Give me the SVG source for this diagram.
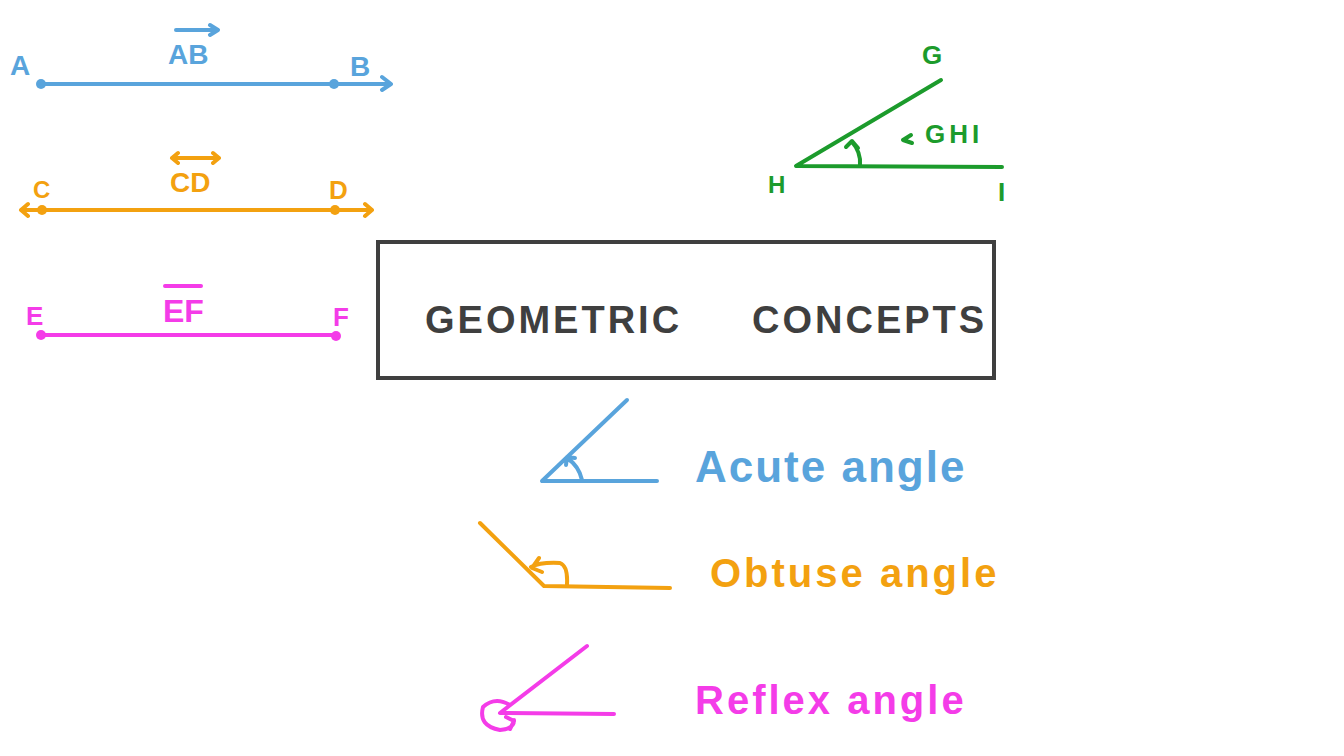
<svg xmlns="http://www.w3.org/2000/svg" width="1344" height="756" viewBox="0 0 1344 756">
<style>
.s{fill:none;stroke-width:4;stroke-linecap:round;stroke-linejoin:round}
.b{stroke:#59a4dc}.o{stroke:#f3a110}.m{stroke:#f43ce8}.g{stroke:#1c9b2c}.k{stroke:#3f3f3f}
.t{font-family:"Comic Sans MS","Liberation Sans",sans-serif;font-weight:bold}
</style>
<rect width="1344" height="756" fill="#fff"/>
<g id="connectors">
<g id="ab"><path class="s b" d="M41 84 L390 84 M382 77 L391 84 L382 90 M176 30 L218 30 M210 25 L218 30 L210 35"/><circle cx="41" cy="84" r="5" fill="#59a4dc"/><circle cx="334" cy="84" r="5" fill="#59a4dc"/></g>
<g id="cd"><path class="s o" d="M21 210 L372 210 M28 204 L21 210 L28 216 M365 204 L372 210 L365 216 M172 158 L219 158 M178 153 L172 158 L178 163 M213 153 L219 158 L213 163"/><circle cx="42" cy="210" r="5" fill="#f3a110"/><circle cx="335" cy="210" r="5" fill="#f3a110"/></g>
<g id="ef"><path class="s m" d="M41 335 L336 335 M165 286 L201 286"/><circle cx="41" cy="335" r="5" fill="#f43ce8"/><circle cx="336" cy="336" r="5" fill="#f43ce8"/></g>
<g id="ghi"><path class="s g" d="M941 80 L796 166 L1002 167 M852 142 Q861 152 860 165 M846 147 L852 141 L858 148 M903 140 L911 135 M903 140 L912 143"/></g>
<g id="acute"><path class="s b" d="M627 400 L542 481 L657 481 M567 458 Q579 466 582 480 M566 465 L567 457 L575 458"/></g>
<g id="obtuse"><path class="s o" d="M480 523 L544 586 L670 588 M531 567 Q540 562 560 563 Q568 566 567 584 M539 558 L532 568 L542 572"/></g>
<g id="reflex"><path class="s m" d="M587 646 L500 713 L614 714 M510 705 Q495 696 483 707 Q478 726 500 730 Q514 729 514 720 M506 717 L514 721 L510 729"/></g>
</g>
<g id="labels" class="t" font-size="30">
<text x="10" y="75" fill="#59a4dc" font-size="28">A</text>
<text x="168" y="64" fill="#59a4dc" font-size="28">AB</text>
<text x="350" y="76" fill="#59a4dc" font-size="28">B</text>
<text x="33" y="198" fill="#f3a110" font-size="24">C</text>
<text x="170" y="192" fill="#f3a110" font-size="28">CD</text>
<text x="329" y="199" fill="#f3a110" font-size="26">D</text>
<text x="26" y="325" fill="#f43ce8" font-size="26">E</text>
<text x="163" y="322" fill="#f43ce8" font-size="32">EF</text>
<text x="333" y="326" fill="#f43ce8" font-size="26">F</text>
<text x="922" y="64" fill="#1c9b2c" font-size="26">G</text>
<text x="768" y="193" fill="#1c9b2c" font-size="24">H</text>
<text x="998" y="201" fill="#1c9b2c" font-size="26">I</text>
<text x="925" y="143" fill="#1c9b2c" font-size="26" letter-spacing="4">GHI</text>
</g>
<g id="title"><rect x="378" y="242" width="616" height="136" fill="#fff" stroke="#3f3f3f" stroke-width="4"/>
<text x="425" y="333" class="t" font-size="38" fill="#3f3f3f" letter-spacing="3">GEOMETRIC</text>
<text x="752" y="333" class="t" font-size="38" fill="#3f3f3f" letter-spacing="3">CONCEPTS</text></g>
<g id="acute-label"><text x="695" y="482" class="t" font-size="44" fill="#59a4dc" font-weight="normal" letter-spacing="2">Acute angle</text></g>
<g id="obtuse-label"><text x="710" y="587" class="t" font-size="40" fill="#f3a110" letter-spacing="3">Obtuse angle</text></g>
<g id="reflex-label"><text x="695" y="714" class="t" font-size="40" fill="#f43ce8" letter-spacing="3">Reflex angle</text></g>
</svg>
